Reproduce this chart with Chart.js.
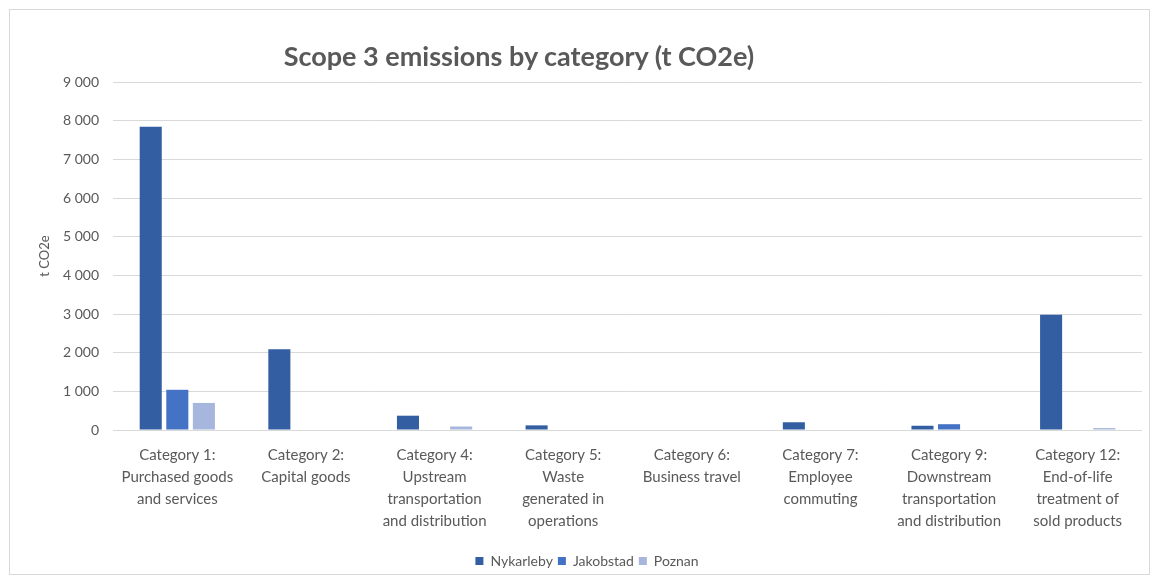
<!DOCTYPE html>
<html>
<head>
<meta charset="utf-8">
<script src="https://cdn.jsdelivr.net/npm/chart.js@4/dist/chart.umd.min.js"></script>
<style>
    body { margin: 0; background: #fff; font-family: Lato, sans-serif; }
    #frame {
        position: absolute; left: 9px; top: 9px; width: 1141px; height: 566px;
        border: 1px solid #d9d9d9; box-sizing: border-box;
    }
    #title {
        position: absolute; left: 219px; top: 39px; width: 600px; text-align: center;
        font: bold 27px Lato, sans-serif; color: #595959; line-height: 34px;
    }
</style>
</head>
<body>
<div id="frame"><canvas id="scopeChart"></canvas></div>
<div id="title">Scope 3 emissions by category (t CO2e)</div>
<script>
// categories (multi-line labels as in the original)
const categories = [
    ['Category 1:', 'Purchased goods', 'and services'],
    ['Category 2:', 'Capital goods'],
    ['Category 4:', 'Upstream', 'transportation', 'and distribution'],
    ['Category 5:', 'Waste', 'generated in', 'operations'],
    ['Category 6:', 'Business travel'],
    ['Category 7:', 'Employee', 'commuting'],
    ['Category 9:', 'Downstream', 'transportation', 'and distribution'],
    ['Category 12:', 'End-of-life', 'treatment of', 'sold products']
];

const nykarleby = [7840, 2090, 370, 120, 0, 200, 110, 2980];
const jakobstad = [1040, 0, 0, 0, 0, 0, 150, 0];
const poznan = [700, 0, 90, 0, 0, 0, 0, 50];

const yTicks = [0, 1000, 2000, 3000, 4000, 5000, 6000, 7000, 8000, 9000];

function fmt(v) {
    return String(v).replace(/\B(?=(\d{3})+(?!\d))/g, ' ');
}

const textColor = '#595959';

const chartData = {
    labels: categories,
    datasets: [
        { label: 'Nykarleby', data: nykarleby, backgroundColor: '#345ea2' },
        { label: 'Jakobstad', data: jakobstad, backgroundColor: '#4472c4' },
        { label: 'Poznan', data: poznan, backgroundColor: '#a7b6dc' }
    ]
};

const config = {
    type: 'bar',
    data: chartData,
    options: {
        responsive: true,
        maintainAspectRatio: false,
        animation: false,
        categoryPercentage: 0.62,
        barPercentage: 0.83,
        layout: { padding: { top: 72, right: 7, bottom: -4, left: 22 } },
        plugins: {
            legend: {
                position: 'bottom',
                labels: {
                    boxWidth: 8, boxHeight: 8, color: textColor,
                    font: { family: 'Lato', size: 14 }, padding: 5
                }
            },
            tooltip: { enabled: false }
        },
        scales: {
            x: {
                grid: { display: false },
                border: { display: false },
                ticks: {
                    color: textColor, padding: 6, maxRotation: 0, autoSkip: false,
                    font: { family: 'Lato', size: 15, lineHeight: 1.47 }
                },
                afterFit: function(s) { s.height = 119; }
            },
            y: {
                min: 0,
                max: 9000,
                afterBuildTicks: function(s) { s.ticks = yTicks.map(function(v) { return { value: v }; }); },
                grid: { color: '#d9d9d9', lineWidth: 1, drawTicks: false },
                border: { display: false },
                ticks: {
                    color: textColor, padding: 14,
                    font: { family: 'Lato', size: 14 },
                    callback: function(v) { return fmt(v); }
                },
                title: {
                    display: true, text: 't CO2e', color: textColor,
                    font: { family: 'Lato', size: 13 }, padding: { top: 5, bottom: 0 }
                },
                afterFit: function(s) { s.width = 81; }
            }
        }
    }
};

const scopeChart = new Chart(document.getElementById('scopeChart'), config);
</script>
</body>
</html>
